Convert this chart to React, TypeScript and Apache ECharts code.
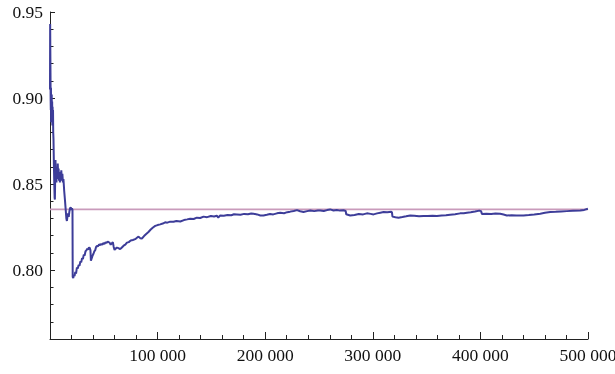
import React, { useEffect, useRef } from "react";
import * as echarts from "echarts";

const sampleSizes = [
  0, 150, 300, 450, 600, 750, 900, 1050, 1200, 1400, 1600, 1800, 2000, 2200, 2400, 2600, 2800, 3000, 3250, 3600,
  4000, 4300, 4550, 4800, 5100, 5400, 5700, 6000, 6400, 6800, 7200, 7600, 8000, 8400, 8800, 9200, 9600, 10000,
  10500, 11000, 11500, 12000, 12500, 13200, 14000, 14600, 15200, 15700, 16200, 16800, 17400, 18000, 18600, 19400,
  19900, 20400, 20900,
  21100, 21600,
  22200, 22800, 23500, 24200, 25000, 25800, 26600, 27400, 28200, 29000, 29800, 30600, 31400, 32200, 33000, 33800,
  34600, 35400, 36200, 37000, 37600, 38000, 38800, 39600, 40400, 41200, 42000, 42800, 43600, 44600, 45600, 46600,
  47600, 48600, 49600, 50600, 51600, 52600, 53600, 54400, 55400, 56400, 57400, 58400, 59200, 60000, 61000, 62200,
  63600, 65200, 66800, 68400, 70000, 71500, 73200, 75000, 77000, 79200, 80800, 82300, 83800, 85400, 87400, 89400,
  91500, 93600, 95700, 97800, 100000, 102400, 104800, 107000, 109000, 111700, 114800, 117500, 121100, 124500,
  127500, 130300, 133500, 136500, 139600, 142700, 146000, 149500, 152500, 155000, 156400, 158200, 161500, 165000,
  168500, 171000, 173700, 177000, 180500, 184000, 187000, 189100, 192500, 195500, 198400, 201500, 204500, 207500,
  210900, 214000, 217500, 220500, 223200, 226500, 229500, 232500, 235600, 239000, 241900, 245500, 249000, 251100,
  254500, 257500, 260400, 263500, 266500, 269500, 272800, 274800, 275300, 279000, 283000, 287000, 291000, 294500,
  298000, 300700, 304000, 307000, 310000, 313500, 317100, 317800, 318300, 321000, 323900, 327500, 331000, 334800,
  338500, 343000, 347100, 351000, 355500, 359600, 364000, 368000, 371900, 376500, 381200, 384500, 387500, 391000,
  395000, 399000, 400600, 401400, 405500, 410000, 414000, 418400, 421500, 424600, 429000, 433500, 440100, 445000,
  450000, 455600, 460000, 464900, 470000, 475000, 480400, 486000, 492800, 496500, 499900,
];

const estimates = [
  0.905, 0.943, 0.928, 0.915, 0.899, 0.893, 0.906, 0.886, 0.899, 0.888, 0.902, 0.887, 0.898, 0.884, 0.895, 0.886,
  0.893, 0.88, 0.876, 0.862, 0.85, 0.842, 0.841, 0.853, 0.864, 0.852, 0.86, 0.851, 0.858, 0.853, 0.862, 0.855,
  0.859, 0.852, 0.857, 0.851, 0.856, 0.853, 0.858, 0.852, 0.856, 0.851, 0.853, 0.846, 0.84, 0.835, 0.83, 0.8286,
  0.831, 0.833, 0.831, 0.834, 0.836, 0.8365, 0.835, 0.836, 0.835,
  0.796, 0.7955, 0.797, 0.7965, 0.799, 0.798, 0.8015, 0.801, 0.803, 0.8025, 0.805,
  0.8045, 0.807, 0.8065, 0.809, 0.8085, 0.811, 0.8115, 0.8125, 0.812, 0.8132, 0.8128, 0.8115, 0.8055, 0.807,
  0.8085, 0.8095, 0.811, 0.8115, 0.8135, 0.814, 0.8138, 0.815, 0.8145, 0.8152, 0.8148, 0.8158, 0.8152, 0.8162,
  0.8158, 0.8166, 0.8163, 0.816, 0.8148, 0.8155, 0.8163, 0.8135, 0.8118, 0.8125, 0.8131, 0.8128, 0.8122, 0.8132,
  0.8142, 0.8148, 0.816, 0.8163, 0.8172, 0.8175, 0.818, 0.8188, 0.8195, 0.8186, 0.8184, 0.8198, 0.821, 0.8222,
  0.8236, 0.8248, 0.8257, 0.8262, 0.8266, 0.8271, 0.8278, 0.8276, 0.8282, 0.8281, 0.8286, 0.8283, 0.8291, 0.8295,
  0.8299, 0.8297, 0.8305, 0.8303, 0.8311, 0.8308, 0.8315, 0.8312, 0.8316, 0.8306, 0.8318, 0.8316, 0.8321, 0.8319,
  0.8325, 0.8324, 0.8322, 0.8327, 0.8325, 0.8329, 0.8328, 0.8324, 0.8318, 0.8318, 0.8322, 0.8326, 0.8324, 0.833,
  0.8333, 0.8331, 0.8337, 0.834, 0.8344, 0.8349, 0.8342, 0.8338, 0.8343, 0.8347, 0.8343, 0.8346, 0.8347, 0.8344,
  0.8349, 0.8353, 0.8347, 0.835, 0.8346, 0.8348, 0.8344, 0.8325, 0.8318, 0.832, 0.8326, 0.8324, 0.833, 0.8327,
  0.8324, 0.833, 0.8334, 0.8338, 0.8336, 0.834, 0.8335, 0.8311, 0.8307, 0.8305, 0.8309, 0.8313, 0.8318, 0.8316,
  0.8313, 0.8315, 0.8314, 0.8316, 0.8315, 0.8318, 0.8319, 0.8322, 0.8325, 0.833, 0.8331, 0.8334, 0.8337, 0.8341,
  0.8346, 0.8343, 0.8327, 0.8328, 0.8326, 0.8329, 0.8328, 0.8323, 0.8318, 0.8319, 0.8317, 0.8318, 0.832, 0.8323,
  0.8328, 0.8333, 0.8338, 0.8339, 0.8341, 0.8343, 0.8345, 0.8347, 0.835, 0.8357,
];

const referenceValue = 0.8353;
const referenceSpan = [0, 500000];

const yMajorTicks = [0.8, 0.85, 0.9, 0.95];
const yMinorTicks = [0.77, 0.78, 0.79, 0.81, 0.82, 0.83, 0.84, 0.86, 0.87, 0.88, 0.89, 0.91, 0.92, 0.93, 0.94];
const xTickLabels = [100000, 200000, 300000, 400000, 500000];

const FONT = "Liberation Serif";

function fmtThousands(v: number): string {
  const s = String(Math.round(v));
  return s.replace(/\B(?=(\d{3})+(?!\d))/g, " ");
}

export default function App() {
  const ref = useRef<HTMLDivElement>(null);
  useEffect(() => {
    if (!ref.current) return;
    const chart = echarts.init(ref.current, undefined, { renderer: "svg" });
    const n = Math.min(sampleSizes.length, estimates.length);
    const lineData = sampleSizes.slice(0, n).map((x, i) => [x, estimates[i]]);
    const refData = referenceSpan.map((x) => [x, referenceValue]);
    chart.setOption({
      animation: false,
      grid: { left: 50, right: 27, top: 12, bottom: 35, containLabel: false, outerBoundsMode: "none" },
      xAxis: {
        type: "value",
        min: 0,
        max: 500000,
        interval: 100000,
        axisLine: { show: true, onZero: false, lineStyle: { color: "#222", width: 1 } },
        axisTick: { show: true, inside: true, length: 7, lineStyle: { color: "#222" } },
        minorTick: { show: true, splitNumber: 5, length: 4, lineStyle: { color: "#222" } },
        splitLine: { show: false },
        minorSplitLine: { show: false },
        axisLabel: {
          customValues: xTickLabels,
          formatter: (v: number) => fmtThousands(v),
          fontFamily: FONT,
          fontSize: 17.5,
          color: "#111",
          margin: 7,
          hideOverlap: false,
        },
      },
      yAxis: [
        {
          type: "value",
          min: 0.76,
          max: 0.95,
          position: "left",
          axisLine: { show: true, lineStyle: { color: "#222", width: 1 } },
          axisTick: { show: true, inside: true, length: 5, customValues: yMajorTicks, lineStyle: { color: "#222" } },
          splitLine: { show: false },
          axisLabel: {
            customValues: yMajorTicks,
            formatter: (v: number) => v.toFixed(2),
            fontFamily: FONT,
            fontSize: 17.5,
            color: "#111",
            margin: 7,
          },
        },
        {
          type: "value",
          min: 0.76,
          max: 0.95,
          position: "left",
          axisLine: { show: false },
          axisTick: { show: true, inside: true, length: 3.5, customValues: yMinorTicks, lineStyle: { color: "#222" } },
          splitLine: { show: false },
          axisLabel: { show: false },
        },
      ],
      series: [
        {
          type: "line",
          data: refData,
          yAxisIndex: 0,
          showSymbol: false,
          silent: true,
          lineStyle: { color: "#c99bbb", width: 1.6 },
          z: 1,
        },
        {
          type: "line",
          data: lineData,
          yAxisIndex: 0,
          showSymbol: false,
          silent: true,
          lineStyle: { color: "#3d3d99", width: 2 },
          z: 2,
        },
      ],
    });
    return () => chart.dispose();
  }, []);
  return <div ref={ref} style={{ position: "fixed", left: 0, top: 0, width: 615, height: 374 }} />;
}
